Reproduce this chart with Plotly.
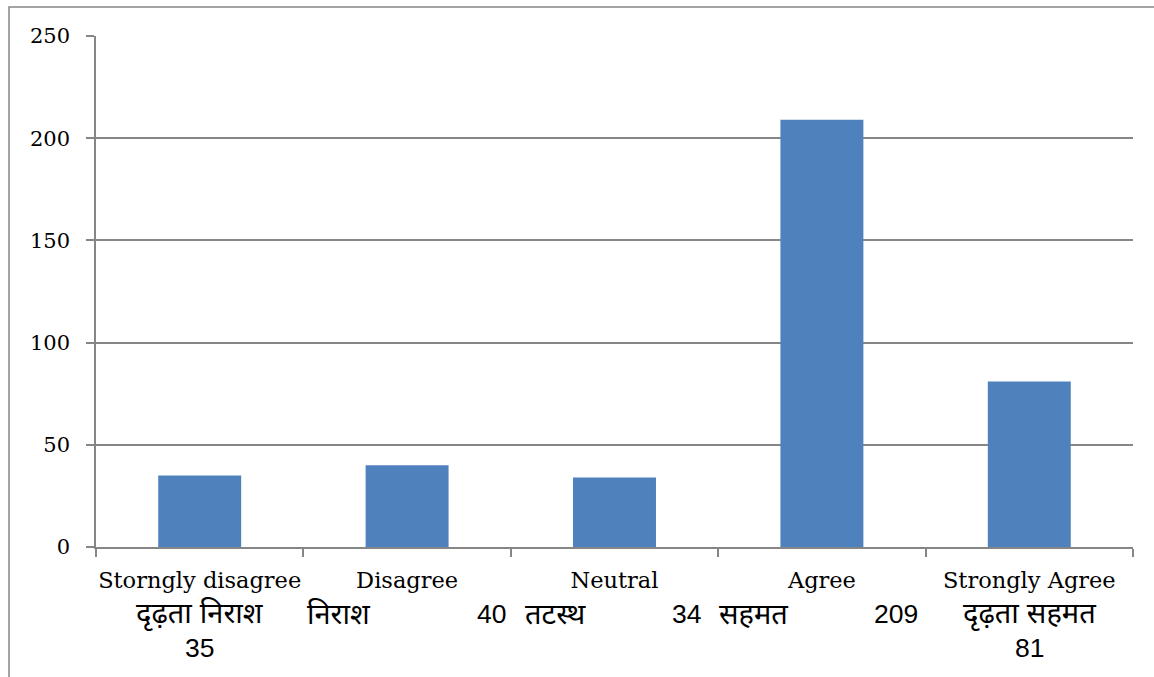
import plotly.graph_objects as go

# Survey response categories
labels_en = ["Storngly disagree", "Disagree", "Neutral", "Agree", "Strongly Agree"]
labels_hi = ["दृढ़ता निराश", "निराश", "तटस्थ", "सहमत", "दृढ़ता सहमत"]
counts = [35, 40, 34, 209, 81]
y_ticks = [0, 50, 100, 150, 200, 250]

BAR = "#4F81BD"
GRID = "#868686"

fig = go.Figure(
    go.Bar(x=labels_en, y=counts, marker=dict(color=BAR, line=dict(width=0)), width=0.4)
)

# Second/third label lines: Hindi term and the count, laid out like wrapped cell text
# (mode, hindi x-offset, number x-offset) per category, in pixels from the category centre
layout_rows = [
    ("stack", 0, 0),
    ("split", -102, 101),
    ("split", -92, 88),
    ("split", -105, 98),
    ("stack", 0, 0),
]
hifont = dict(family="Liberation Sans, Noto Sans, sans-serif", size=29, color="black")
numfont = dict(family="Liberation Sans, sans-serif", size=26.5, color="black")
ann = []
for cat, hi, n, (mode, hx, nx) in zip(labels_en, labels_hi, counts, layout_rows):
    if mode == "stack":
        ann.append(dict(x=cat, xref="x", y=0, yref="paper", yshift=-67, text=hi,
                        showarrow=False, xanchor="center", yanchor="middle", font=hifont))
        ann.append(dict(x=cat, xref="x", y=0, yref="paper", yshift=-101, text=str(n),
                        showarrow=False, xanchor="center", yanchor="middle", font=numfont))
    else:
        ann.append(dict(x=cat, xref="x", y=0, yref="paper", yshift=-67, xshift=hx, text=hi,
                        showarrow=False, xanchor="left", yanchor="middle", font=hifont))
        ann.append(dict(x=cat, xref="x", y=0, yref="paper", yshift=-67, xshift=nx, text=str(n),
                        showarrow=False, xanchor="right", yanchor="middle", font=numfont))

L, R, T, B = 96, 21, 36, 130
W, H = 1154, 677
pw, ph = W - L - R, H - T - B

fig.update_layout(
    width=W, height=H,
    margin=dict(l=L, r=R, t=T, b=B, pad=0),
    paper_bgcolor="white", plot_bgcolor="white",
    showlegend=False,
    annotations=ann,
    font=dict(family="DejaVu Serif, serif", color="black"),
    xaxis=dict(
        type="category", tickson="boundaries", ticks="outside", ticklen=8,
        tickcolor=GRID, tickwidth=1.5, showline=True, linecolor=GRID, linewidth=1.5,
        showgrid=False, tickfont=dict(family="DejaVu Serif, serif", size=22.5, color="black"),
        ticklabelstandoff=12, tickangle=0, automargin=False,
    ),
    yaxis=dict(
        range=[0, 250], tickvals=y_ticks, ticks="outside", ticklen=8, tickcolor=GRID,
        tickwidth=1.5, showline=True, linecolor=GRID, linewidth=1.5, showgrid=True,
        gridcolor=GRID, gridwidth=1.5, zeroline=False,
        tickfont=dict(family="DejaVu Serif, serif", size=21, color="black"),
        ticklabelstandoff=12, automargin=False,
    ),
    shapes=[dict(
        type="rect", xref="paper", yref="paper",
        x0=(9 - L) / pw, x1=(W + 10 - L) / pw,
        y0=(T + ph - (H + 10)) / ph, y1=(T + ph - 7) / ph,
        line=dict(color=GRID, width=1.5), fillcolor="rgba(0,0,0,0)", layer="below",
    )],
)

fig.write_html("out.html")
